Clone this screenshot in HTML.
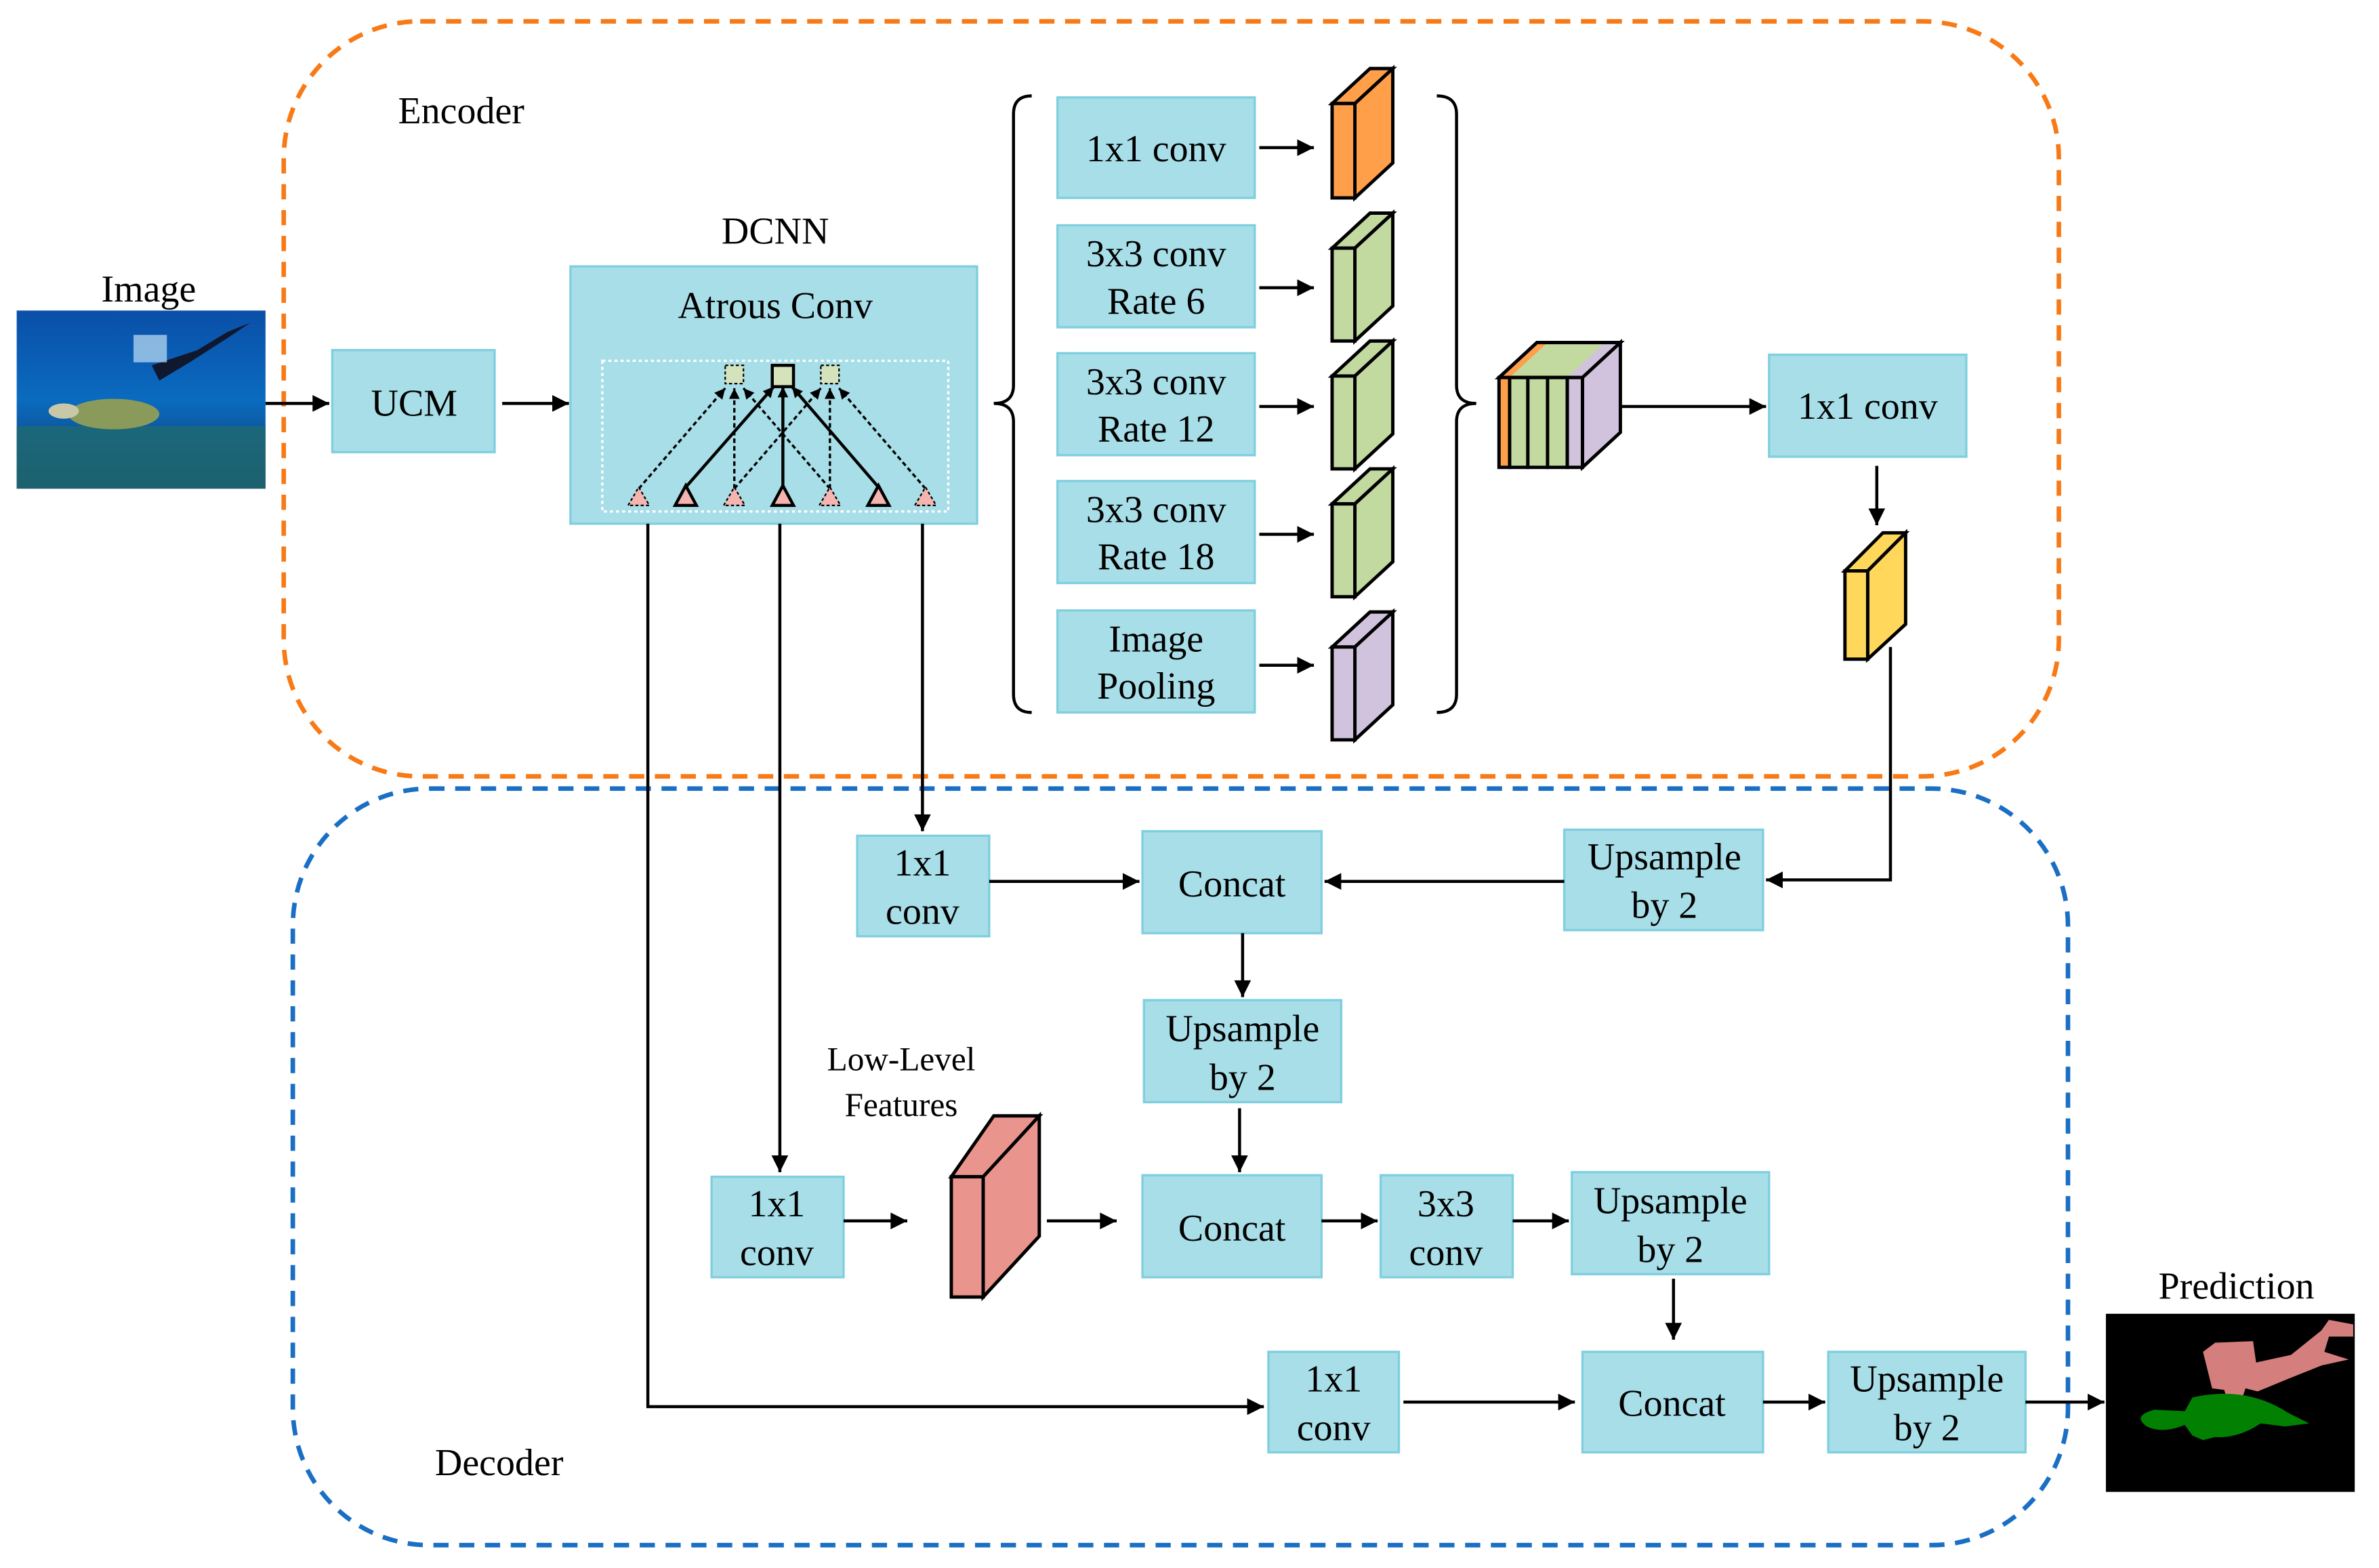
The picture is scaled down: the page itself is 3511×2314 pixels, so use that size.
<!DOCTYPE html>
<html><head><meta charset="utf-8"><style>
html,body{margin:0;padding:0;background:#fff;}
svg{display:block;}
text{font-family:"Liberation Serif",serif;font-size:25px;fill:#000;text-anchor:middle;}
.b{fill:#A8DEE8;stroke:#7FCFDF;stroke-width:1.5;}
.l{stroke:#000;stroke-width:2;fill:none;}
.c{stroke:#000;stroke-width:2.2;stroke-linejoin:miter;}
</style></head><body>
<svg width="3511" height="2314" viewBox="0 0 1568 1030" preserveAspectRatio="none" xmlns="http://www.w3.org/2000/svg">
<defs>
<marker id="a" viewBox="0 0 10 10" refX="10" refY="5" markerWidth="13" markerHeight="11" orient="auto" markerUnits="userSpaceOnUse"><path d="M0,0L10,5L0,10z" fill="#000"/></marker>
<marker id="d" viewBox="0 0 10 10" refX="10" refY="5" markerWidth="8" markerHeight="7" orient="auto" markerUnits="userSpaceOnUse"><path d="M0,0L10,5L0,10z" fill="#000"/></marker>
<linearGradient id="sea" x1="0" y1="0" x2="0" y2="1"><stop offset="0" stop-color="#0a4fa8"/><stop offset="0.5" stop-color="#0a6bbf"/><stop offset="1" stop-color="#143a66"/></linearGradient>
</defs>
<rect x="187" y="14" width="1170" height="496" rx="90" fill="none" stroke="#F87A16" stroke-width="3" stroke-dasharray="10,7"/>
<rect x="193" y="518" width="1170" height="497" rx="90" fill="none" stroke="#1A6FC4" stroke-width="3" stroke-dasharray="10,7"/>
<text x="304" y="81">Encoder</text>
<text x="329" y="969">Decoder</text>
<text x="98" y="198">Image</text>
<rect x="11" y="204" width="164" height="117" fill="url(#sea)"/>
<rect x="11" y="280" width="164" height="41" fill="#1f6a70" opacity="0.8"/>
<ellipse cx="75" cy="272" rx="30" ry="10" fill="#8a9a5a"/>
<ellipse cx="42" cy="270" rx="10" ry="5" fill="#c8c8a8"/>
<path d="M100,240 L130,230 L150,218 L165,212 L150,222 L125,238 L105,250 Z" fill="#101830"/>
<rect x="88" y="220" width="22" height="18" fill="#bfe0f5" opacity="0.7"/>
<rect class="b" x="219" y="230" width="107" height="67"/><text x="273" y="273">UCM</text>
<line class="l" x1="175" y1="265" x2="217" y2="265" marker-end="url(#a)"/>
<line class="l" x1="331" y1="265" x2="375" y2="265" marker-end="url(#a)"/>
<text x="511" y="160">DCNN</text>
<rect class="b" x="376" y="175" width="268" height="169"/>
<text x="511" y="209">Atrous Conv</text>
<rect x="397" y="237" width="228" height="99" fill="none" stroke="#fff" stroke-width="1.5" stroke-dasharray="2,2"/>
<g stroke="#000" stroke-width="1.5" stroke-dasharray="3,2" fill="none">
<line x1="421" y1="321" x2="478" y2="255" marker-end="url(#d)"/>
<line x1="484" y1="321" x2="484" y2="255" marker-end="url(#d)"/>
<line x1="547" y1="321" x2="490" y2="255" marker-end="url(#d)"/>
<line x1="484" y1="321" x2="541" y2="255" marker-end="url(#d)"/>
<line x1="547" y1="321" x2="547" y2="255" marker-end="url(#d)"/>
<line x1="610" y1="321" x2="553" y2="255" marker-end="url(#d)"/>
</g>
<g stroke="#000" stroke-width="2" fill="none">
<line x1="452" y1="320" x2="510" y2="254" marker-end="url(#d)"/>
<line x1="516" y1="320" x2="516" y2="254" marker-end="url(#d)"/>
<line x1="579" y1="320" x2="522" y2="254" marker-end="url(#d)"/>
</g>
<rect x="478" y="240" width="12" height="12" fill="#D4E3BC" stroke="#000" stroke-dasharray="2,1.5"/>
<rect x="541" y="240" width="12" height="12" fill="#D4E3BC" stroke="#000" stroke-dasharray="2,1.5"/>
<rect x="509" y="240" width="14" height="14" fill="#D4E3BC" stroke="#000" stroke-width="2"/>
<g fill="#F4B4B0">
<path d="M414,332L421,320L428,332z" stroke="#000" stroke-dasharray="2,1.5"/>
<path d="M477,332L484,320L491,332z" stroke="#000" stroke-dasharray="2,1.5"/>
<path d="M540,332L547,320L554,332z" stroke="#000" stroke-dasharray="2,1.5"/>
<path d="M603,332L610,320L617,332z" stroke="#000" stroke-dasharray="2,1.5"/>
<path d="M445,332L452,319L459,332z" stroke="#000" stroke-width="2"/>
<path d="M509,332L516,319L523,332z" stroke="#000" stroke-width="2"/>
<path d="M572,332L579,319L586,332z" stroke="#000" stroke-width="2"/>
</g>
<path class="l" d="M680,63 Q668,63 668,75 L668,253 Q668,265 655,265 Q668,265 668,277 L668,456 Q668,468 680,468"/>
<path class="l" d="M947,63 Q960,63 960,75 L960,253 Q960,265 973,265 Q960,265 960,277 L960,456 Q960,468 947,468"/>
<rect class="b" x="697" y="64" width="130" height="66"/><text x="762" y="106">1x1 conv</text>
<rect class="b" x="697" y="148" width="130" height="67"/><text x="762" y="175">3x3 conv</text><text x="762" y="206">Rate 6</text>
<rect class="b" x="697" y="232" width="130" height="67"/><text x="762" y="259">3x3 conv</text><text x="762" y="290">Rate 12</text>
<rect class="b" x="697" y="316" width="130" height="67"/><text x="762" y="343">3x3 conv</text><text x="762" y="374">Rate 18</text>
<rect class="b" x="697" y="401" width="130" height="67"/><text x="762" y="428">Image</text><text x="762" y="459">Pooling</text>
<g class="l">
<line x1="830" y1="97" x2="866" y2="97" marker-end="url(#a)"/>
<line x1="830" y1="189" x2="866" y2="189" marker-end="url(#a)"/>
<line x1="830" y1="267" x2="866" y2="267" marker-end="url(#a)"/>
<line x1="830" y1="351" x2="866" y2="351" marker-end="url(#a)"/>
<line x1="830" y1="437" x2="866" y2="437" marker-end="url(#a)"/>
</g>
<g class="c">
<path d="M878,68 L903,45 L918,45 L893,68Z" fill="#FF9F4A"/><path d="M893,68 L918,45 L918,107 L893,130Z" fill="#FF9F4A"/><rect x="878" y="68" width="15" height="62" fill="#FF9F4A"/>
<path d="M878,163 L903,140 L918,140 L893,163Z" fill="#C2D9A0"/><path d="M893,163 L918,140 L918,201 L893,224Z" fill="#C2D9A0"/><rect x="878" y="163" width="15" height="61" fill="#C2D9A0"/>
<path d="M878,247 L903,224 L918,224 L893,247Z" fill="#C2D9A0"/><path d="M893,247 L918,224 L918,285 L893,308Z" fill="#C2D9A0"/><rect x="878" y="247" width="15" height="61" fill="#C2D9A0"/>
<path d="M878,331 L903,308 L918,308 L893,331Z" fill="#C2D9A0"/><path d="M893,331 L918,308 L918,369 L893,392Z" fill="#C2D9A0"/><rect x="878" y="331" width="15" height="61" fill="#C2D9A0"/>
<path d="M878,425 L903,402 L918,402 L893,425Z" fill="#D1C3DD"/><path d="M893,425 L918,402 L918,463 L893,486Z" fill="#D1C3DD"/><rect x="878" y="425" width="15" height="61" fill="#D1C3DD"/>
<path d="M988,248 L1013,225 L1068,225 L1043,248Z" fill="#C2D9A0"/>
<path d="M1033,248 L1058,225 L1068,225 L1043,248Z" fill="#D1C3DD" stroke="none"/>
<path d="M988,248 L1013,225 L1020,225 L995,248Z" fill="#FF9F4A" stroke="none"/>
<path d="M988,248 L1013,225 L1068,225 L1043,248Z" fill="none"/>
<path d="M1043,248 L1068,225 L1068,284 L1043,307Z" fill="#D1C3DD"/>
<rect x="988" y="248" width="7" height="59" fill="#FF9F4A"/>
<rect x="995" y="248" width="12" height="59" fill="#C2D9A0"/>
<rect x="1007" y="248" width="13" height="59" fill="#C2D9A0"/>
<rect x="1020" y="248" width="13" height="59" fill="#C2D9A0"/>
<rect x="1033" y="248" width="10" height="59" fill="#D1C3DD"/>
<path d="M1216,375 L1241,350 L1256,350 L1231,375Z" fill="#FFD75A"/><path d="M1231,375 L1256,350 L1256,410 L1231,433Z" fill="#FFD75A"/><rect x="1216" y="375" width="15" height="58" fill="#FFD75A"/>
<path d="M627,773 L655,733 L685,733 L648,773Z" fill="#EA948E"/><path d="M648,773 L685,733 L685,812 L648,852Z" fill="#EA948E"/><rect x="627" y="773" width="21" height="79" fill="#EA948E"/>
</g>
<line class="l" x1="1068" y1="267" x2="1164" y2="267" marker-end="url(#a)"/>
<rect class="b" x="1166" y="233" width="130" height="67"/><text x="1231" y="275">1x1 conv</text>
<line class="l" x1="1237" y1="306" x2="1237" y2="345" marker-end="url(#a)"/>
<rect class="b" x="565" y="549" width="87" height="66"/><text x="608" y="575">1x1</text><text x="608" y="607">conv</text>
<rect class="b" x="753" y="546" width="118" height="67"/><text x="812" y="589">Concat</text>
<rect class="b" x="1031" y="545" width="131" height="66"/><text x="1097" y="571">Upsample</text><text x="1097" y="603">by 2</text>
<rect class="b" x="754" y="657" width="130" height="67"/><text x="819" y="684">Upsample</text><text x="819" y="716">by 2</text>
<rect class="b" x="469" y="773" width="87" height="66"/><text x="512" y="799">1x1</text><text x="512" y="831">conv</text>
<rect class="b" x="753" y="772" width="118" height="67"/><text x="812" y="815">Concat</text>
<rect class="b" x="910" y="772" width="87" height="67"/><text x="953" y="799">3x3</text><text x="953" y="831">conv</text>
<rect class="b" x="1036" y="770" width="130" height="67"/><text x="1101" y="797">Upsample</text><text x="1101" y="829">by 2</text>
<rect class="b" x="836" y="888" width="86" height="66"/><text x="879" y="914">1x1</text><text x="879" y="946">conv</text>
<rect class="b" x="1043" y="888" width="119" height="66"/><text x="1102" y="930">Concat</text>
<rect class="b" x="1205" y="888" width="130" height="66"/><text x="1270" y="914">Upsample</text><text x="1270" y="946">by 2</text>
<text x="594" y="703" style="font-size:22px">Low-Level</text>
<text x="594" y="733" style="font-size:22px">Features</text>
<g class="l">
<line x1="608" y1="344" x2="608" y2="546" marker-end="url(#a)"/>
<line x1="514" y1="344" x2="514" y2="770" marker-end="url(#a)"/>
<polyline points="427,344 427,924 833,924" marker-end="url(#a)"/>
<polyline points="1246,425 1246,578 1164,578" marker-end="url(#a)"/>
<line x1="652" y1="579" x2="751" y2="579" marker-end="url(#a)"/>
<line x1="1031" y1="579" x2="873" y2="579" marker-end="url(#a)"/>
<line x1="819" y1="613" x2="819" y2="655" marker-end="url(#a)"/>
<line x1="817" y1="728" x2="817" y2="770" marker-end="url(#a)"/>
<line x1="556" y1="802" x2="598" y2="802" marker-end="url(#a)"/>
<line x1="690" y1="802" x2="736" y2="802" marker-end="url(#a)"/>
<line x1="871" y1="802" x2="908" y2="802" marker-end="url(#a)"/>
<line x1="997" y1="802" x2="1034" y2="802" marker-end="url(#a)"/>
<line x1="1103" y1="840" x2="1103" y2="880" marker-end="url(#a)"/>
<line x1="925" y1="921" x2="1038" y2="921" marker-end="url(#a)"/>
<line x1="1162" y1="921" x2="1203" y2="921" marker-end="url(#a)"/>
<line x1="1335" y1="921" x2="1387" y2="921" marker-end="url(#a)"/>
</g>
<text x="1474" y="853">Prediction</text>
<rect x="1388" y="863" width="164" height="117" fill="#000"/>
<path d="M1452,888 L1460,882 L1485,881 L1487,895 L1510,890 L1530,874 L1535,867 L1551,870 L1551,878 L1535,878 L1532,888 L1548,893 L1530,897 L1510,905 L1493,912 L1488,914 L1480,912 L1478,918 L1468,920 L1466,913 L1458,912 Z" fill="#D47E7E"/>
<path d="M1445,918 Q1480,910 1508,928 L1522,935 L1506,937 L1490,935 Q1475,945 1460,944 L1452,946 L1445,943 L1440,936 Q1425,942 1415,937 Q1405,930 1420,926 L1440,927 Z" fill="#028002"/>
</svg>
</body></html>
